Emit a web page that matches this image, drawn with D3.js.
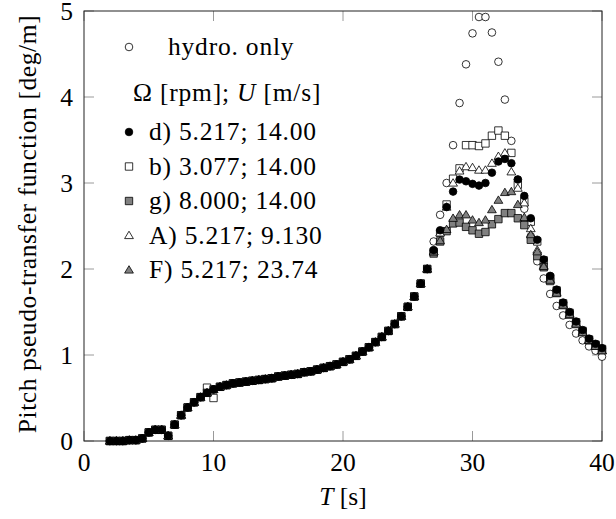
<!DOCTYPE html>
<html lang="en">
<head>
    <meta charset="UTF-8">
    <title>Pitch pseudo-transfer function</title>
    <script src="https://d3js.org/d3.v7.min.js"></script>
    <style>
        * {
            margin: 0;
            padding: 0;
            box-sizing: border-box;
        }

        html, body {
            width: 616px;
            height: 519px;
            overflow: clip;
            background: white;
        }

        text {
            font-family: "Liberation Serif", "DejaVu Serif", serif;
        }
    </style>
</head>
<body>
<svg id="chart" width="616" height="519"></svg>
<script>
    // periods where every series sits on the same curve
    const tCommon = [2, 2.5, 3, 3.5, 4, 4.5, 5, 5.5, 6, 6.5, 7, 7.5, 8, 8.5, 9, 9.5, 10, 10.5, 11, 11.5,
        12, 12.5, 13, 13.5, 14, 14.5, 15, 15.5, 16, 16.5, 17, 17.5, 18, 18.5, 19, 19.5, 20, 20.5,
        21, 21.5, 22, 22.5, 23, 23.5, 24, 24.5, 25, 25.5, 26, 26.5]
    const common = [0.00, 0.00, 0.00, 0.01, 0.01, 0.03, 0.10, 0.13, 0.13, 0.06, 0.19, 0.30, 0.39, 0.45,
        0.51, 0.56, 0.60, 0.63, 0.65, 0.67, 0.68, 0.69, 0.70, 0.71, 0.72, 0.73, 0.75, 0.76, 0.77,
        0.78, 0.80, 0.81, 0.83, 0.85, 0.87, 0.89, 0.92, 0.95, 0.99, 1.04, 1.09, 1.15, 1.21, 1.28,
        1.36, 1.45, 1.56, 1.68, 1.83, 2.00]

    // resonance region, one array per series
    const tPeak = [27, 27.5, 28, 28.5, 29, 29.5, 30, 30.5, 31, 31.5, 32, 32.5, 33, 33.5, 34, 34.5,
        35, 35.5, 36, 36.5, 37, 37.5, 38, 38.5, 39, 39.5, 40]
    const hydroPeak = [2.32, 2.63, 3.00, 3.44, 3.93, 4.38, 4.74, 4.93, 4.93, 4.75, 4.41, 3.97, 3.49,
        3.04, 2.70, 2.38, 2.09, 1.89, 1.71, 1.57, 1.46, 1.35, 1.25, 1.17, 1.10, 1.05, 0.98]
    const dPeak = [2.22, 2.45, 2.72, 2.90, 3.04, 3.02, 2.99, 2.97, 3.00, 3.12, 3.25, 3.28, 3.23,
        3.04, 2.85, 2.59, 2.34, 2.11, 1.92, 1.76, 1.61, 1.50, 1.39, 1.29, 1.19, 1.13, 1.08]
    const bPeak = [2.20, 2.42, 2.75, 3.05, 3.17, 3.44, 3.44, 3.43, 3.46, 3.55, 3.61, 3.55, 3.35,
        2.98, 2.79, 2.55, 2.32, 2.10, 1.90, 1.75, 1.60, 1.49, 1.38, 1.28, 1.18, 1.12, 1.07]
    const gPeak = [2.18, 2.32, 2.44, 2.53, 2.54, 2.49, 2.45, 2.41, 2.43, 2.52, 2.58, 2.65, 2.65,
        2.59, 2.51, 2.34, 2.15, 2.02, 1.86, 1.72, 1.58, 1.47, 1.36, 1.27, 1.17, 1.11, 1.06]
    const aPeak = [2.20, 2.42, 2.72, 3.00, 3.14, 3.19, 3.18, 3.15, 3.15, 3.23, 3.31, 3.35, 3.13,
        2.94, 2.77, 2.47, 2.22, 2.04, 1.88, 1.73, 1.59, 1.48, 1.37, 1.27, 1.18, 1.11, 1.05]
    const fPeak = [2.20, 2.33, 2.46, 2.59, 2.63, 2.63, 2.57, 2.54, 2.57, 2.69, 2.80, 2.89, 2.90,
        2.75, 2.60, 2.40, 2.20, 2.03, 1.87, 1.72, 1.58, 1.47, 1.36, 1.26, 1.17, 1.10, 1.05]
    // case b leaves the common curve briefly near 10 s
    const bLowT = [9.5, 10]
    const bLow = [0.62, 0.50]

    const xTicks = [0, 10, 20, 30, 40]
    const yTicks = [0, 1, 2, 3, 4, 5]

    const gray = "#808080"
    // drawing order: hydro at the back, d on top
    const series = [
        { key: "hydro", label: "hydro. only", shape: "circle", fill: "white", peak: hydroPeak },
        { key: "b", label: "b) 3.077; 14.00", shape: "square", fill: "white", peak: bPeak },
        { key: "g", label: "g) 8.000; 14.00", shape: "square", fill: gray, peak: gPeak },
        { key: "A", label: "A) 5.217; 9.130", shape: "triangle", fill: "white", peak: aPeak },
        { key: "F", label: "F) 5.217; 23.74", shape: "triangle", fill: gray, peak: fPeak },
        { key: "d", label: "d) 5.217; 14.00", shape: "circle", fill: "black", peak: dPeak },
    ]
    const legendOrder = ["d", "b", "g", "A", "F"]

    const W = 616, H = 519
    const m = { left: 84, right: 14, top: 11, bottom: 78 }
    const x = d3.scaleLinear().domain([0, 40]).range([m.left, W - m.right])
    const y = d3.scaleLinear().domain([0, 5]).range([H - m.bottom, m.top])

    const markerPath = shape => {
        if (shape === "circle") return "M3.8,0A3.8,3.8 0 1,1 -3.8,0A3.8,3.8 0 1,1 3.8,0Z"
        if (shape === "square") return "M-3.7,-3.7H3.7V3.7H-3.7Z"
        return "M0,-4.3L4.4,3.1L-4.4,3.1Z"
    }

    const svg = d3.select("#chart")
    const fontSize = 25.5
    const spacing = 0.8

    // ticks, inward on all four sides
    const tickLen = 10
    const tickG = svg.append("g").attr("stroke", "#9a9a9a").attr("stroke-width", 1)
    xTicks.forEach(t => {
        tickG.append("line").attr("x1", x(t)).attr("x2", x(t)).attr("y1", y(0)).attr("y2", y(0) - tickLen)
        tickG.append("line").attr("x1", x(t)).attr("x2", x(t)).attr("y1", y(5)).attr("y2", y(5) + tickLen)
    })
    yTicks.forEach(t => {
        tickG.append("line").attr("x1", x(0)).attr("x2", x(0) + tickLen).attr("y1", y(t)).attr("y2", y(t))
        tickG.append("line").attr("x1", x(40)).attr("x2", x(40) - tickLen).attr("y1", y(t)).attr("y2", y(t))
    })

    svg.append("rect")
        .attr("x", x(0)).attr("y", y(5))
        .attr("width", x(40) - x(0)).attr("height", y(0) - y(5))
        .attr("fill", "none").attr("stroke", "#222").attr("stroke-width", 1)

    svg.append("g").selectAll("text").data(xTicks).join("text")
        .attr("x", d => x(d)).attr("y", y(0) + 30)
        .attr("text-anchor", "middle").attr("font-size", fontSize)
        .text(d => d)
    svg.append("g").selectAll("text").data(yTicks).join("text")
        .attr("x", x(0) - 11).attr("y", d => y(d) + 8.5)
        .attr("text-anchor", "end").attr("font-size", fontSize)
        .text(d => d)

    const xl = svg.append("text").attr("x", x(20)).attr("y", 505)
        .attr("text-anchor", "middle").attr("font-size", fontSize)
    xl.append("tspan").attr("font-style", "italic").text("T")
    xl.append("tspan").text(" [s]")

    svg.append("text")
        .attr("transform", `translate(36,${(y(0) + y(5)) / 2 - 2}) rotate(-90)`)
        .attr("text-anchor", "middle").attr("font-size", fontSize)
        .attr("letter-spacing", 0.6)
        .text("Pitch pseudo-transfer function [deg/m]")

    // markers
    series.forEach(s => {
        let pts = tCommon.map((t, i) => [t, common[i]])
        if (s.key === "b") pts = pts.map(p => {
            const j = bLowT.indexOf(p[0])
            return j < 0 ? p : [p[0], bLow[j]]
        })
        pts = pts.concat(tPeak.map((t, i) => [t, s.peak[i]]))
        svg.append("g").selectAll("path").data(pts).join("path")
            .attr("transform", d => `translate(${x(d[0])},${y(d[1])})`)
            .attr("d", markerPath(s.shape))
            .attr("fill", s.fill).attr("stroke", "black").attr("stroke-width", 0.8)
    })

    // legend
    const lg = svg.append("g")
    const hydro = series.find(s => s.key === "hydro")
    lg.append("path").attr("transform", "translate(129,47)").attr("d", markerPath(hydro.shape))
        .attr("fill", "white").attr("stroke", "black").attr("stroke-width", 0.8)
    lg.append("text").attr("x", 168).attr("y", 55).attr("font-size", fontSize)
        .attr("letter-spacing", spacing).text(hydro.label)

    const head = lg.append("text").attr("x", 133).attr("y", 101).attr("font-size", fontSize)
        .attr("letter-spacing", spacing)
    head.append("tspan").text("Ω [rpm]; ")
    head.append("tspan").attr("font-style", "italic").text("U")
    head.append("tspan").text(" [m/s]")

    legendOrder.forEach((k, i) => {
        const s = series.find(d => d.key === k)
        const by = 140 + i * 34.5
        lg.append("path").attr("transform", `translate(129,${by - 8})`).attr("d", markerPath(s.shape))
            .attr("fill", s.fill).attr("stroke", "black").attr("stroke-width", 0.8)
        lg.append("text").attr("x", 149).attr("y", by).attr("font-size", fontSize)
            .attr("letter-spacing", spacing).text(s.label)
    })
</script>
</body>
</html>
